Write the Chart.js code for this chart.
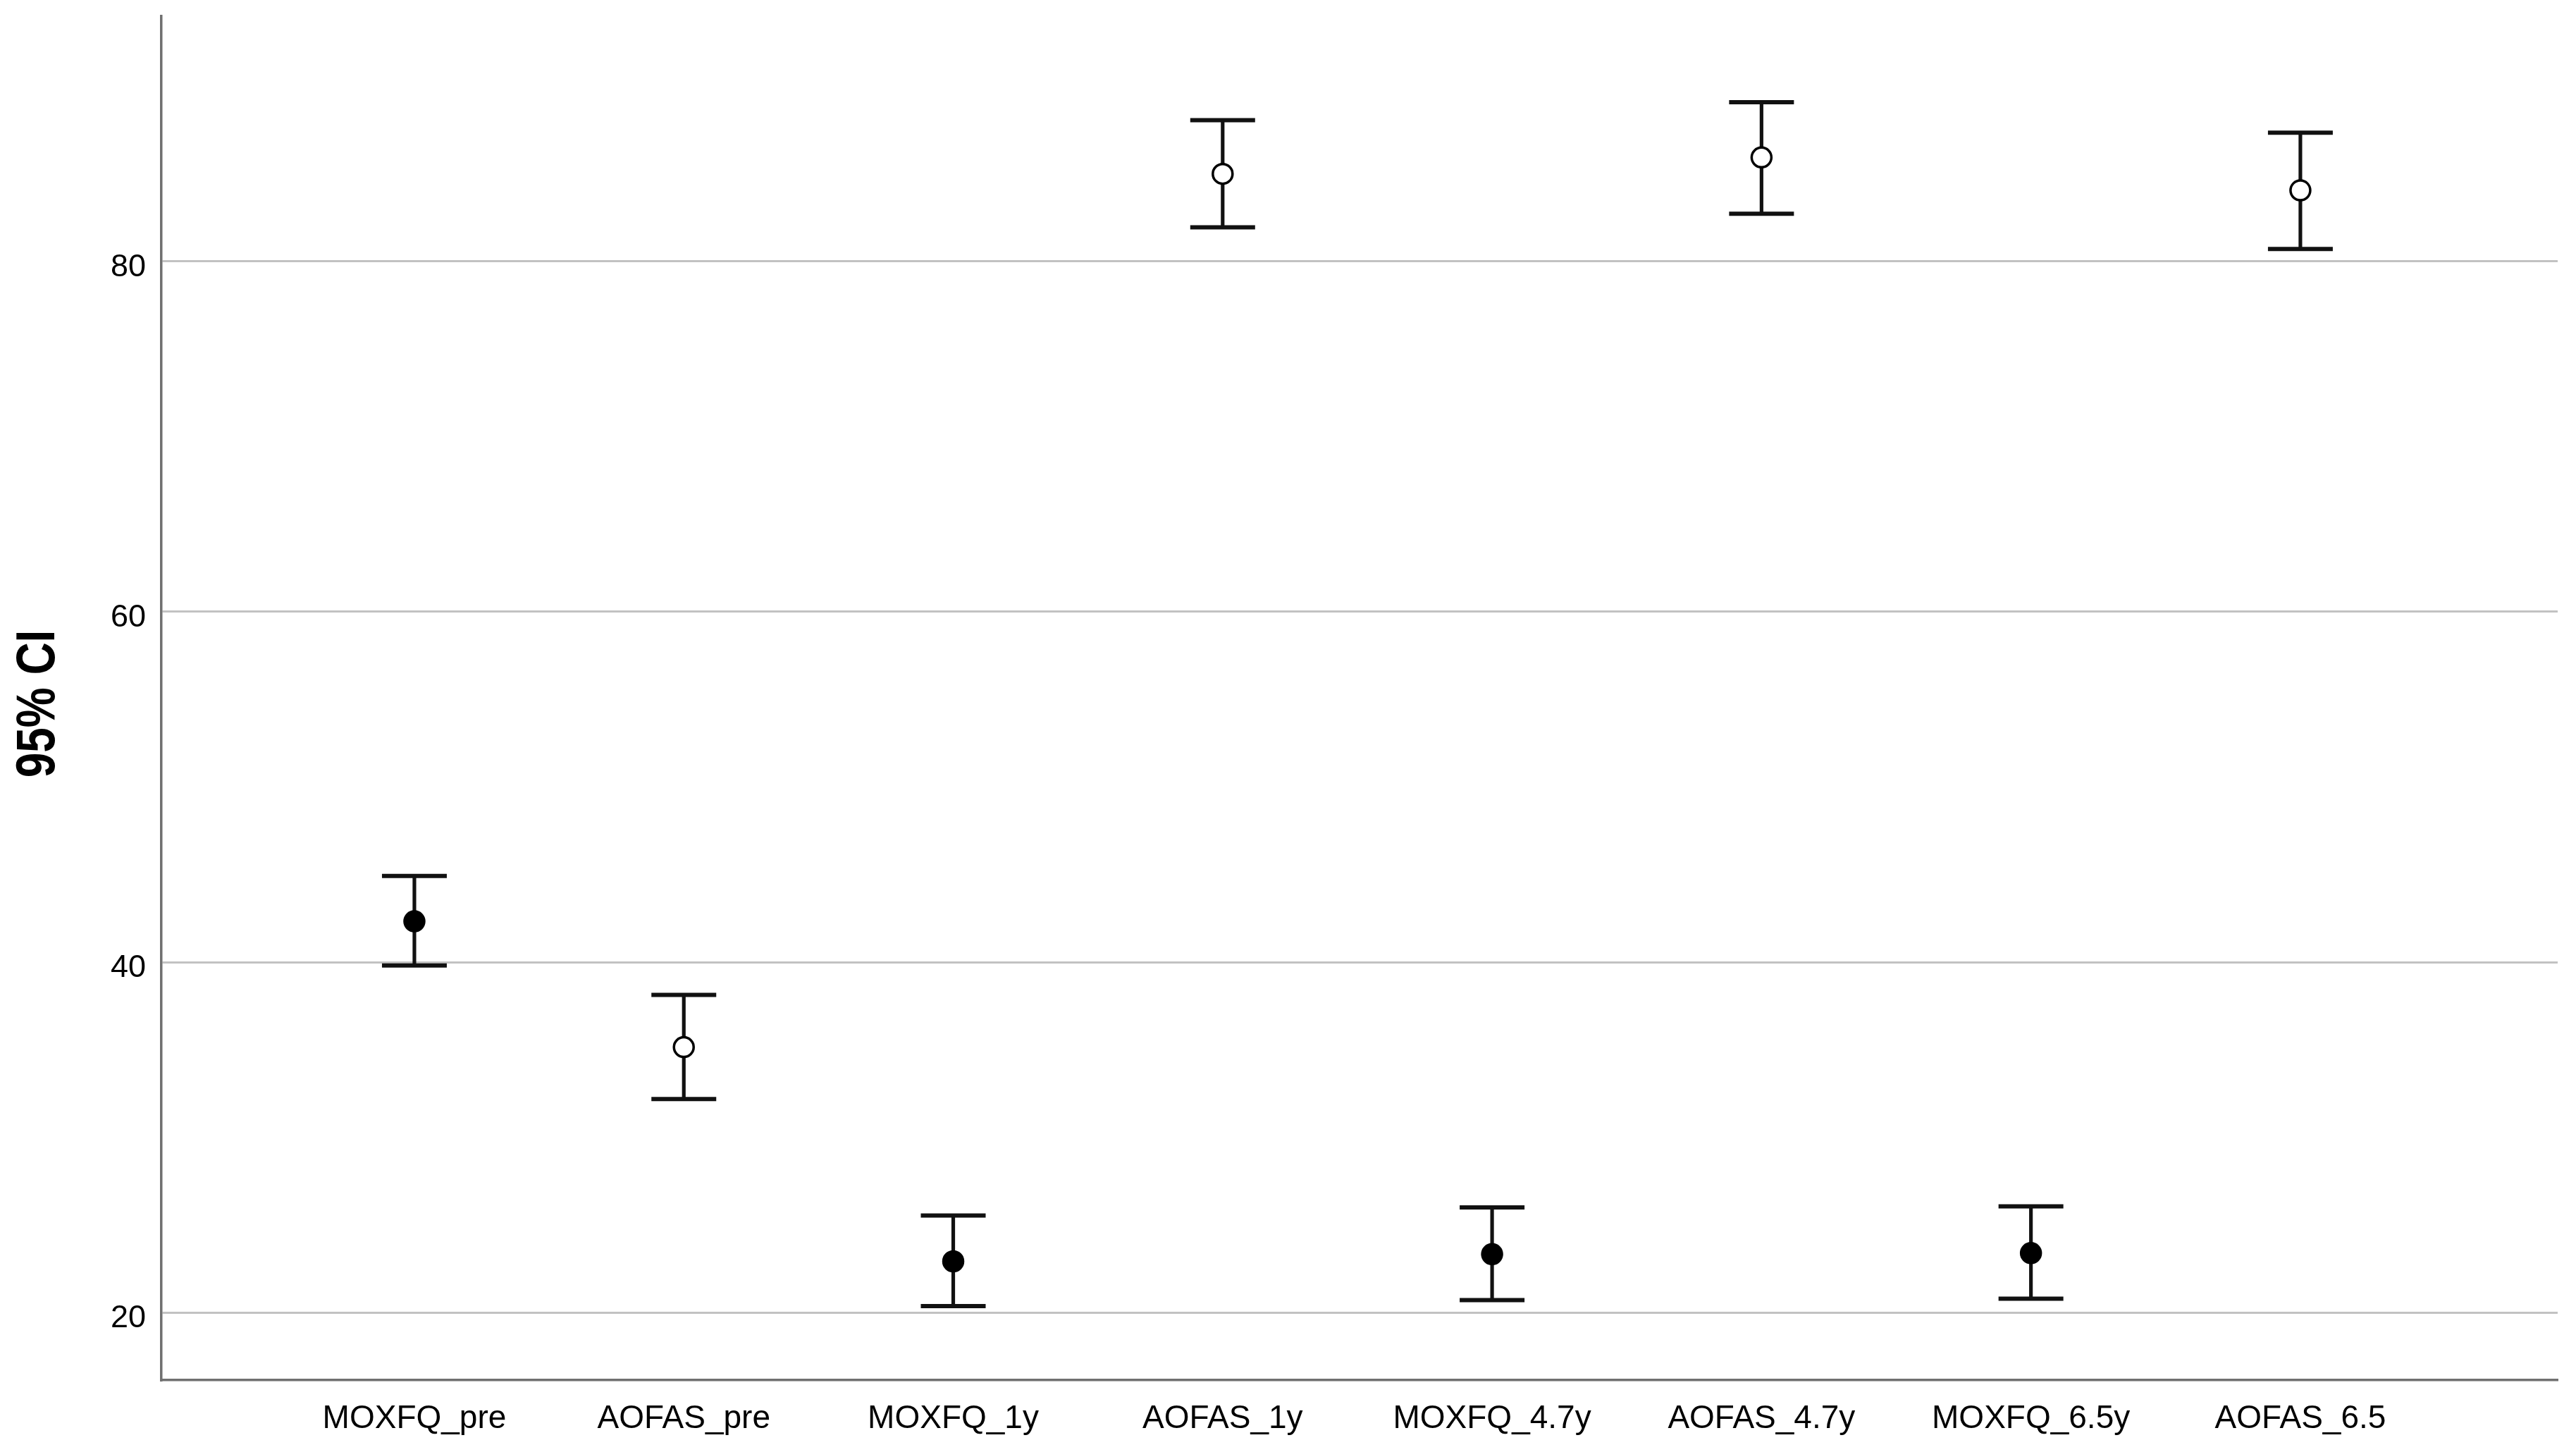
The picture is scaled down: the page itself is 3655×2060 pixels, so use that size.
<!DOCTYPE html>
<html>
<head>
<meta charset="utf-8">
<script src="https://cdn.jsdelivr.net/npm/chart.js@4.4.1/dist/chart.umd.min.js"></script>
<style>
  html, body { margin: 0; padding: 0; background: #fff; }
  #ci-chart { display: block; }
</style>
</head>
<body>
<canvas id="ci-chart" width="3655" height="2060"></canvas>
<script>
// categories along the x axis
const categories = ['MOXFQ_pre', 'AOFAS_pre', 'MOXFQ_1y', 'AOFAS_1y', 'MOXFQ_4.7y', 'AOFAS_4.7y', 'MOXFQ_6.5y', 'AOFAS_6.5'];
// means and 95% CI bounds
const means = [42.33, 35.15, 22.92, 85.0, 23.33, 85.94, 23.39, 84.06];
const lower = [39.81, 32.18, 20.36, 81.95, 20.71, 82.72, 20.79, 80.71];
const upper = [44.92, 38.13, 25.54, 88.06, 26.0, 89.09, 26.06, 87.35];
const yTicks = [20, 40, 60, 80];
const yTitle = '95% CI';

const yMin = 16.14;
const yMax = 94.0;

// y title in a narrow bold face (Arial Narrow look), drawn next to the y scale
const narrowTitle = {
    id: 'narrowTitle',
    afterDraw(chart) {
        const ctx = chart.ctx;
        const yScale = chart.scales.y;
        ctx.save();
        ctx.translate(55, (yScale.top + yScale.bottom) / 2 + 8);
        ctx.rotate(-Math.PI / 2);
        ctx.scale(0.82, 1);
        ctx.font = "bold 78px 'Liberation Sans', Arial, sans-serif";
        ctx.fillStyle = '#000000';
        ctx.textAlign = 'center';
        ctx.textBaseline = 'middle';
        ctx.fillText(yTitle, 0, 0);
        ctx.restore();
    }
};

function main() {
    const canvas = document.querySelector('#ci-chart');

    // MOXFQ means are filled, AOFAS means are open
    const meanFill = categories.map(c => c.startsWith('MOXFQ') ? '#000000' : '#ffffff');

    new Chart(canvas.getContext('2d'), {
        data: {
            datasets: [
                {
                    type: 'scatter',
                    label: 'Mean',
                    order: 0,
                    data: means.map((m, i) => ({ x: i, y: m })),
                    pointStyle: 'circle',
                    pointRadius: 14,
                    pointBorderWidth: 3.5,
                    pointBorderColor: '#000000',
                    pointBackgroundColor: meanFill
                },
                {
                    type: 'scatter',
                    label: 'Caps',
                    order: 1,
                    data: lower.map((l, i) => ({ x: i, y: l })).concat(upper.map((u, i) => ({ x: i, y: u }))),
                    pointStyle: 'line',
                    pointRadius: 46,
                    pointBorderWidth: 6,
                    pointBorderColor: '#111111'
                },
                {
                    type: 'bar',
                    label: '95% CI',
                    order: 2,
                    data: lower.map((l, i) => ({ x: i, y: [l, upper[i]] })),
                    barThickness: 4.5,
                    backgroundColor: '#111111',
                    borderWidth: 0
                }
            ]
        },
        plugins: [narrowTitle],
        options: {
            responsive: false,
            animation: false,
            events: [],
            layout: {
                autoPadding: false,
                padding: { left: 0, right: 26, top: 23, bottom: 0 }
            },
            plugins: {
                legend: { display: false },
                tooltip: { enabled: false }
            },
            scales: {
                x: {
                    type: 'linear',
                    min: -0.939,
                    max: 7.955,
                    offset: false,
                    grid: { display: false, drawTicks: false },
                    border: { display: true, color: '#707070', width: 3.5 },
                    ticks: {
                        stepSize: 1,
                        includeBounds: false,
                        autoSkip: false,
                        maxRotation: 0,
                        padding: 28,
                        color: '#000000',
                        font: { family: "'Liberation Sans', Arial, sans-serif", size: 46 },
                        callback: v => categories[v] !== undefined ? categories[v] : ''
                    },
                    afterFit: scale => {
                        scale.height = 102;
                        scale.paddingLeft = 0;
                        scale.paddingRight = 0;
                    }
                },
                y: {
                    type: 'linear',
                    min: yMin,
                    max: yMax,
                    grid: { color: '#c2c2c2', lineWidth: 3, drawTicks: false },
                    border: { display: true, color: '#707070', width: 3.5 },
                    afterBuildTicks: scale => { scale.ticks = yTicks.map(v => ({ value: v })); },
                    ticks: {
                        padding: 22,
                        labelOffset: 9,
                        color: '#000000',
                        font: { family: "'Liberation Sans', Arial, sans-serif", size: 45 }
                    },
                    title: { display: false },
                    afterFit: scale => {
                        scale.width = 229;
                        scale.paddingTop = 0;
                        scale.paddingBottom = 0;
                    }
                }
            }
        }
    });
}

main()
</script>
</body>
</html>
